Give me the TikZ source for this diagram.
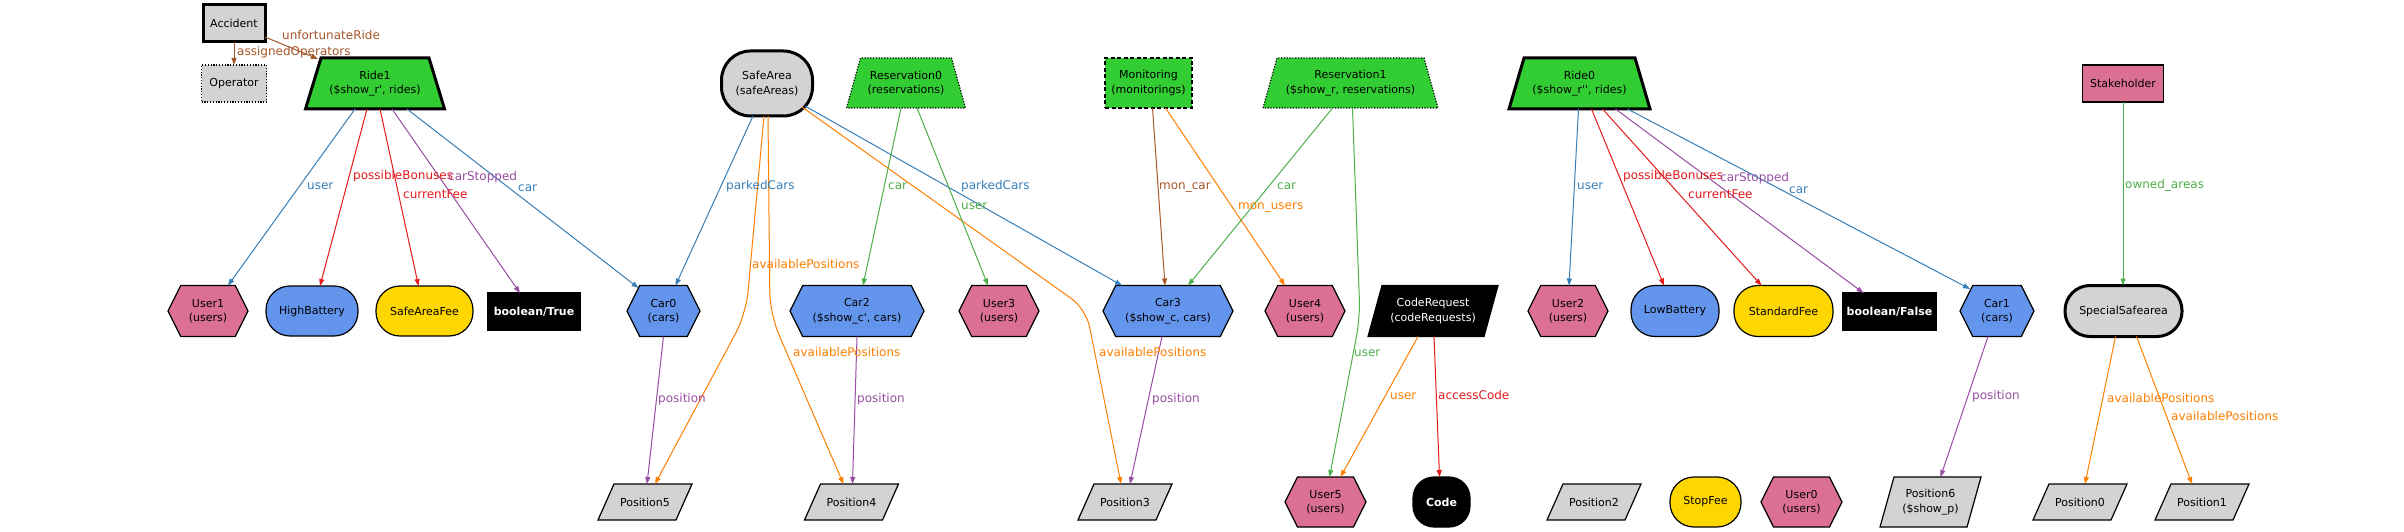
\documentclass[tikz,border=0pt]{standalone}
\usepackage{fontspec}
\setmainfont{DejaVu Sans}
\usetikzlibrary{arrows.meta}
\definecolor{cblue}{HTML}{377EB8}
\definecolor{cred}{HTML}{E41A1C}
\definecolor{cgreen}{HTML}{4DAF4A}
\definecolor{cpurple}{HTML}{984EA3}
\definecolor{corange}{HTML}{FF7F00}
\definecolor{cbrown}{HTML}{A65628}
\definecolor{npink}{HTML}{DB7093}
\definecolor{nblue}{HTML}{6495ED}
\definecolor{ngold}{HTML}{FFD700}
\definecolor{ngreen}{HTML}{32CD32}
\definecolor{ngray}{HTML}{D3D3D3}
\makeatletter
\def\qbTL{0pt}\def\qbTR{0pt}\def\qbBL{0pt}\def\qbBR{0pt}
\pgfdeclareshape{hexbox}{%
  \inheritsavedanchors[from=rectangle]%
  \inheritanchorborder[from=rectangle]%
  \inheritanchor[from=rectangle]{center}%
  \inheritanchor[from=rectangle]{north}%
  \inheritanchor[from=rectangle]{south}%
  \inheritanchor[from=rectangle]{east}%
  \inheritanchor[from=rectangle]{west}%
  \inheritanchor[from=rectangle]{north east}%
  \inheritanchor[from=rectangle]{north west}%
  \inheritanchor[from=rectangle]{south east}%
  \inheritanchor[from=rectangle]{south west}%
  \inheritanchor[from=rectangle]{text}%
  \inheritanchor[from=rectangle]{mid}%
  \inheritanchor[from=rectangle]{base}%
  \backgroundpath{%
    \southwest \edef\hb@xa{\the\pgf@x}\edef\hb@ya{\the\pgf@y}%
    \northeast \edef\hb@xb{\the\pgf@x}\edef\hb@yb{\the\pgf@y}%
    \pgf@yc=\hb@ya \advance\pgf@yc by \hb@yb \pgf@yc=.5\pgf@yc \edef\hb@yc{\the\pgf@yc}%
    \pgf@xc=\hb@yb \advance\pgf@xc by -\hb@ya \pgf@xc=.25\pgf@xc
    \pgf@xa=\hb@xa \advance\pgf@xa by \pgf@xc \edef\hb@xl{\the\pgf@xa}%
    \pgf@xb=\hb@xb \advance\pgf@xb by -\pgf@xc \edef\hb@xr{\the\pgf@xb}%
    \pgfpathmoveto{\pgfqpoint{\hb@xa}{\hb@yc}}%
    \pgfpathlineto{\pgfqpoint{\hb@xl}{\hb@yb}}%
    \pgfpathlineto{\pgfqpoint{\hb@xr}{\hb@yb}}%
    \pgfpathlineto{\pgfqpoint{\hb@xb}{\hb@yc}}%
    \pgfpathlineto{\pgfqpoint{\hb@xr}{\hb@ya}}%
    \pgfpathlineto{\pgfqpoint{\hb@xl}{\hb@ya}}%
    \pgfpathclose
  }%
}
\pgfdeclareshape{quadbox}{%
  \inheritsavedanchors[from=rectangle]%
  \inheritanchorborder[from=rectangle]%
  \inheritanchor[from=rectangle]{center}%
  \inheritanchor[from=rectangle]{north}%
  \inheritanchor[from=rectangle]{south}%
  \inheritanchor[from=rectangle]{east}%
  \inheritanchor[from=rectangle]{west}%
  \inheritanchor[from=rectangle]{north east}%
  \inheritanchor[from=rectangle]{north west}%
  \inheritanchor[from=rectangle]{south east}%
  \inheritanchor[from=rectangle]{south west}%
  \inheritanchor[from=rectangle]{text}%
  \inheritanchor[from=rectangle]{mid}%
  \inheritanchor[from=rectangle]{base}%
  \backgroundpath{%
    \southwest \edef\hb@xa{\the\pgf@x}\edef\hb@ya{\the\pgf@y}%
    \northeast \edef\hb@xb{\the\pgf@x}\edef\hb@yb{\the\pgf@y}%
    \pgf@xa=\hb@xa \advance\pgf@xa by \qbBL \edef\qb@p{\the\pgf@xa}%
    \pgf@xa=\hb@xa \advance\pgf@xa by \qbTL \edef\qb@q{\the\pgf@xa}%
    \pgf@xa=\hb@xb \advance\pgf@xa by -\qbTR \edef\qb@r{\the\pgf@xa}%
    \pgf@xa=\hb@xb \advance\pgf@xa by -\qbBR \edef\qb@s{\the\pgf@xa}%
    \pgfpathmoveto{\pgfqpoint{\qb@p}{\hb@ya}}%
    \pgfpathlineto{\pgfqpoint{\qb@q}{\hb@yb}}%
    \pgfpathlineto{\pgfqpoint{\qb@r}{\hb@yb}}%
    \pgfpathlineto{\pgfqpoint{\qb@s}{\hb@ya}}%
    \pgfpathclose
  }%
}
\makeatother
\tikzset{
  qins/.code args={#1/#2/#3/#4}{\def\qbTL{#1}\def\qbTR{#2}\def\qbBL{#3}\def\qbBR{#4}},
  nbase/.style={outer sep=0pt, inner sep=1pt, draw=black, line width=1.2pt,
    font=\fontsize{11}{14.5}\selectfont, align=center, text=black},
  thickb/.style={line width=3pt},
  dottedb/.style={dash pattern=on 1.2pt off 1.6pt},
  dashedb/.style={dash pattern=on 4pt off 2.5pt},
  hexn/.style={nbase, shape=hexbox},
  trapn/.style={nbase, shape=quadbox, qins={#1/#1/0pt/0pt}},
  paran/.style={nbase, shape=quadbox, qins={#1/0pt/0pt/#1}},
  rectn/.style={nbase, shape=rectangle},
  roundn/.style={nbase, shape=rectangle, rounded corners=#1},
  posn/.style={paran=16pt, fill=ngray, minimum width=94pt, minimum height=36pt},
  usern/.style={hexn, fill=npink, minimum width=80pt, minimum height=51pt},
  darkn/.style={text=white, fill=black},
  edgeb/.style={line width=1pt, -{Triangle[length=7pt,width=5pt]}},
  eblue/.style={edgeb, draw=cblue}, ered/.style={edgeb, draw=cred},
  egreen/.style={edgeb, draw=cgreen}, epurple/.style={edgeb, draw=cpurple},
  eorange/.style={edgeb, draw=corange}, ebrown/.style={edgeb, draw=cbrown},
  lbl/.style={anchor=west, inner sep=0pt, text height=9pt, text depth=2.5pt,
    font=\fontsize{12}{14}\selectfont},
}
\begin{document}
\begin{tikzpicture}[x=1pt,y=-1pt]
\fill[white] (0,0) rectangle (2404,532);
\useasboundingbox (0,0) rectangle (2404,532);
% ---- top row
\node[rectn, thickb, fill=ngray, minimum width=62pt, minimum height=37pt] (accident) at (234,23.5) {Accident};
\node[rectn, dottedb, fill=ngray, minimum width=65pt, minimum height=37pt] (operator) at (234,83.5) {Operator};
\node[trapn=15.5pt, thickb, fill=ngreen, minimum width=139pt, minimum height=51pt] (ride1) at (375,83.5) {Ride1\\(\$show\_r\textquotesingle, rides)};
\node[roundn=29pt, thickb, fill=ngray, minimum width=91pt, minimum height=65pt] (safearea) at (767,83.5) {SafeArea\\(safeAreas)};
\node[trapn=14pt, dottedb, fill=ngreen, minimum width=119pt, minimum height=50pt] (res0) at (906,83) {Reservation0\\(reservations)};
\node[rectn, dashedb, fill=ngreen, minimum width=87pt, minimum height=50pt] (monitoring) at (1148.5,83) {Monitoring\\(monitorings)};
\node[trapn=14pt, dottedb, fill=ngreen, minimum width=175pt, minimum height=50pt] (res1) at (1350.5,83) {Reservation1\\(\$show\_r, reservations)};
\node[trapn=15pt, thickb, fill=ngreen, minimum width=141pt, minimum height=51pt] (ride0) at (1579.5,83.5) {Ride0\\(\$show\_r\textquotesingle\textquotesingle, rides)};
\node[rectn, fill=npink, minimum width=81pt, minimum height=37pt] (stakeholder) at (2123,83.5) {Stakeholder};
% ---- middle row
\node[usern] (user1) at (208,311) {User1\\(users)};
\node[roundn=24pt, fill=nblue, minimum width=92pt, minimum height=50pt] (highbat) at (312,311) {HighBattery};
\node[roundn=24pt, fill=ngold, minimum width=97pt, minimum height=50pt] (safeareafee) at (424.5,311) {SafeAreaFee};
\node[rectn, darkn, font=\fontsize{11}{14.5}\selectfont\bfseries, minimum width=92pt, minimum height=37pt] (booltrue) at (534,311.5) {boolean/True};
\node[hexn, fill=nblue, minimum width=73pt, minimum height=51pt] (car0) at (663.5,311) {Car0\\(cars)};
\node[hexn, fill=nblue, minimum width=134pt, minimum height=51pt] (car2) at (857,311) {Car2\\(\$show\_c\textquotesingle, cars)};
\node[usern] (user3) at (999,311) {User3\\(users)};
\node[hexn, fill=nblue, minimum width=130pt, minimum height=51pt] (car3) at (1168,311) {Car3\\(\$show\_c, cars)};
\node[usern] (user4) at (1305,311) {User4\\(users)};
\node[paran=14pt, darkn, minimum width=130pt, minimum height=51pt] (coderequest) at (1433,311) {CodeRequest\\(codeRequests)};
\node[usern] (user2) at (1568,311) {User2\\(users)};
\node[roundn=24pt, fill=nblue, minimum width=88pt, minimum height=51pt] (lowbat) at (1675,311) {LowBattery};
\node[roundn=24pt, fill=ngold, minimum width=99pt, minimum height=51pt] (standardfee) at (1783.5,311) {StandardFee};
\node[rectn, darkn, font=\fontsize{11}{14.5}\selectfont\bfseries, minimum width=93pt, minimum height=37pt] (boolfalse) at (1889.5,311.5) {boolean/False};
\node[hexn, fill=nblue, minimum width=74pt, minimum height=51pt] (car1) at (1997,311) {Car1\\(cars)};
\node[roundn=25pt, thickb, fill=ngray, minimum width=117pt, minimum height=51pt] (specialsafe) at (2123.5,311) {SpecialSafearea};
% ---- bottom row
\node[posn] (pos5) at (645,502) {Position5};
\node[posn] (pos4) at (851.5,502) {Position4};
\node[posn] (pos3) at (1125,502) {Position3};
\node[usern, minimum width=81pt, minimum height=50pt] (user5) at (1325.5,502) {User5\\(users)};
\node[roundn=21pt, darkn, font=\fontsize{11}{14.5}\selectfont\bfseries, minimum width=57pt, minimum height=50pt] (code) at (1441.5,502) {Code};
\node[posn] (pos2) at (1594,502) {Position2};
\node[roundn=24pt, fill=ngold, minimum width=71pt, minimum height=50pt] (stopfee) at (1705.5,502) {StopFee};
\node[usern, minimum width=81pt, minimum height=50pt] (user0) at (1801.5,502) {User0\\(users)};
\node[paran=14pt, fill=ngray, minimum width=101pt, minimum height=50pt] (pos6) at (1930.5,502) {Position6\\(\$show\_p)};
\node[posn] (pos0) at (2080,502) {Position0};
\node[posn] (pos1) at (2202,502) {Position1};
% ---- bend points
\coordinate (w5) at (746,314);
\coordinate (w4) at (770,314);
\coordinate (w3) at (1086,309);
\coordinate (wu5) at (1360,318);
% ---- edges
\draw[ebrown] (accident.south) -- (operator.north);
\draw[ebrown] ([shift={(31,13.5)}]accident.center) -- ([shift={(-57,-24.5)}]ride1.center);
\draw[eblue] ([shift={(-20,25.5)}]ride1.center) -- ([shift={(20,-25.5)}]user1.center);
\draw[ered] ([shift={(-8,25.5)}]ride1.center) -- ([shift={(8,-25)}]highbat.center);
\draw[ered] ([shift={(5,25.5)}]ride1.center) -- ([shift={(-6,-25)}]safeareafee.center);
\draw[epurple] ([shift={(17,25.5)}]ride1.center) -- ([shift={(-14,-18.5)}]booltrue.center);
\draw[eblue] ([shift={(32,25.5)}]ride1.center) -- ([shift={(-25,-23)}]car0.center);
\draw[eblue] ([shift={(-14,32.5)}]safearea.center) -- ([shift={(12,-25.5)}]car0.center);
\draw[eorange, rounded corners=22pt] ([shift={(-3,32.5)}]safearea.center) -- (w5) -- ([shift={(10,-18)}]pos5.center);
\draw[eorange, rounded corners=22pt] ([shift={(1,32.5)}]safearea.center) -- (w4) -- ([shift={(-8,-18)}]pos4.center);
\draw[eblue] ([shift={(38,22.5)}]safearea.center) -- ([shift={(-46,-25.5)}]car3.center);
\draw[eorange, rounded corners=18pt] ([shift={(35,23.5)}]safearea.center) -- (w3) -- ([shift={(-4,-18)}]pos3.center);
\draw[egreen] ([shift={(-5,25)}]res0.center) -- ([shift={(6,-25.5)}]car2.center);
\draw[egreen] ([shift={(11,25)}]res0.center) -- ([shift={(-11,-25.5)}]user3.center);
\draw[ebrown] ([shift={(4,25)}]monitoring.center) -- ([shift={(-3,-25.5)}]car3.center);
\draw[eorange] ([shift={(17,25)}]monitoring.center) -- ([shift={(-20,-25.5)}]user4.center);
\draw[egreen] ([shift={(-18,25)}]res1.center) -- ([shift={(20,-25.5)}]car3.center);
\draw[egreen, rounded corners=18pt] ([shift={(2,25)}]res1.center) -- (wu5) -- ([shift={(4,-25)}]user5.center);
\draw[eblue] ([shift={(-1,25.5)}]ride0.center) -- ([shift={(1,-25.5)}]user2.center);
\draw[ered] ([shift={(12,25.5)}]ride0.center) -- ([shift={(-11,-25.5)}]lowbat.center);
\draw[ered] ([shift={(23,25.5)}]ride0.center) -- ([shift={(-22,-25.5)}]standardfee.center);
\draw[epurple] ([shift={(36,25.5)}]ride0.center) -- ([shift={(-26,-18.5)}]boolfalse.center);
\draw[eblue] ([shift={(48,25.5)}]ride0.center) -- ([shift={(-27,-22)}]car1.center);
\draw[egreen] (stakeholder.south) -- (stakeholder.south |- specialsafe.north);
\draw[epurple] (car0.south) -- ([shift={(2,-18)}]pos5.center);
\draw[epurple] (car2.south) -- ([shift={(1,-18)}]pos4.center);
\draw[epurple] ([shift={(-6,25.5)}]car3.center) -- ([shift={(5,-18)}]pos3.center);
\draw[epurple] ([shift={(-9,25.5)}]car1.center) -- ([shift={(10,-25)}]pos6.center);
\draw[eorange] ([shift={(-15,25.5)}]coderequest.center) -- ([shift={(15,-25)}]user5.center);
\draw[ered] ([shift={(1,25.5)}]coderequest.center) -- ([shift={(-2,-25)}]code.center);
\draw[eorange] ([shift={(-8,25.5)}]specialsafe.center) -- ([shift={(5,-18)}]pos0.center);
\draw[eorange] ([shift={(13,25.5)}]specialsafe.center) -- ([shift={(-10,-18)}]pos1.center);
% ---- edge labels
\node[lbl, text=cbrown] (l1) at (237,52) {assignedOperators};
\node[lbl, text=cbrown] (l2) at (282,36) {unfortunateRide};
\node[lbl, text=cblue] (l3) at (307,186) {user};
\node[lbl, text=cred] (l4) at (353,176) {possibleBonuses};
\node[lbl, text=cred] (l5) at (403,195) {currentFee};
\node[lbl, text=cpurple] (l6) at (448,177) {carStopped};
\node[lbl, text=cblue] (l7) at (518,188) {car};
\node[lbl, text=cblue] (l8) at (726,186) {parkedCars};
\node[lbl, text=corange] (l9) at (752,265) {availablePositions};
\node[lbl, text=cgreen] (l10) at (888,186) {car};
\node[lbl, text=cgreen] (l11) at (961,206) {user};
\node[lbl, text=cblue] (l12) at (961,186) {parkedCars};
\node[lbl, text=cbrown] (l13) at (1159,186) {mon\_car};
\node[lbl, text=corange] (l14) at (1238,206) {mon\_users};
\node[lbl, text=cgreen] (l15) at (1277,186) {car};
\node[lbl, text=corange] (l16) at (793,353) {availablePositions};
\node[lbl, text=corange] (l17) at (1099,353) {availablePositions};
\node[lbl, text=cpurple] (l18) at (658,399) {position};
\node[lbl, text=cpurple] (l19) at (857,399) {position};
\node[lbl, text=cpurple] (l20) at (1152,399) {position};
\node[lbl, text=cgreen] (l21) at (1354,353) {user};
\node[lbl, text=corange] (l22) at (1390,396) {user};
\node[lbl, text=cred] (l23) at (1438,396) {accessCode};
\node[lbl, text=cblue] (l24) at (1577,186) {user};
\node[lbl, text=cred] (l25) at (1623,176) {possibleBonuses};
\node[lbl, text=cred] (l26) at (1688,195) {currentFee};
\node[lbl, text=cpurple] (l27) at (1720,178) {carStopped};
\node[lbl, text=cblue] (l28) at (1789,190) {car};
\node[lbl, text=cgreen] (l29) at (2125,185) {owned\_areas};
\node[lbl, text=cpurple] (l30) at (1972,396) {position};
\node[lbl, text=corange] (l31) at (2107,399) {availablePositions};
\node[lbl, text=corange] (l32) at (2171,417) {availablePositions};
\end{tikzpicture}
\end{document}
